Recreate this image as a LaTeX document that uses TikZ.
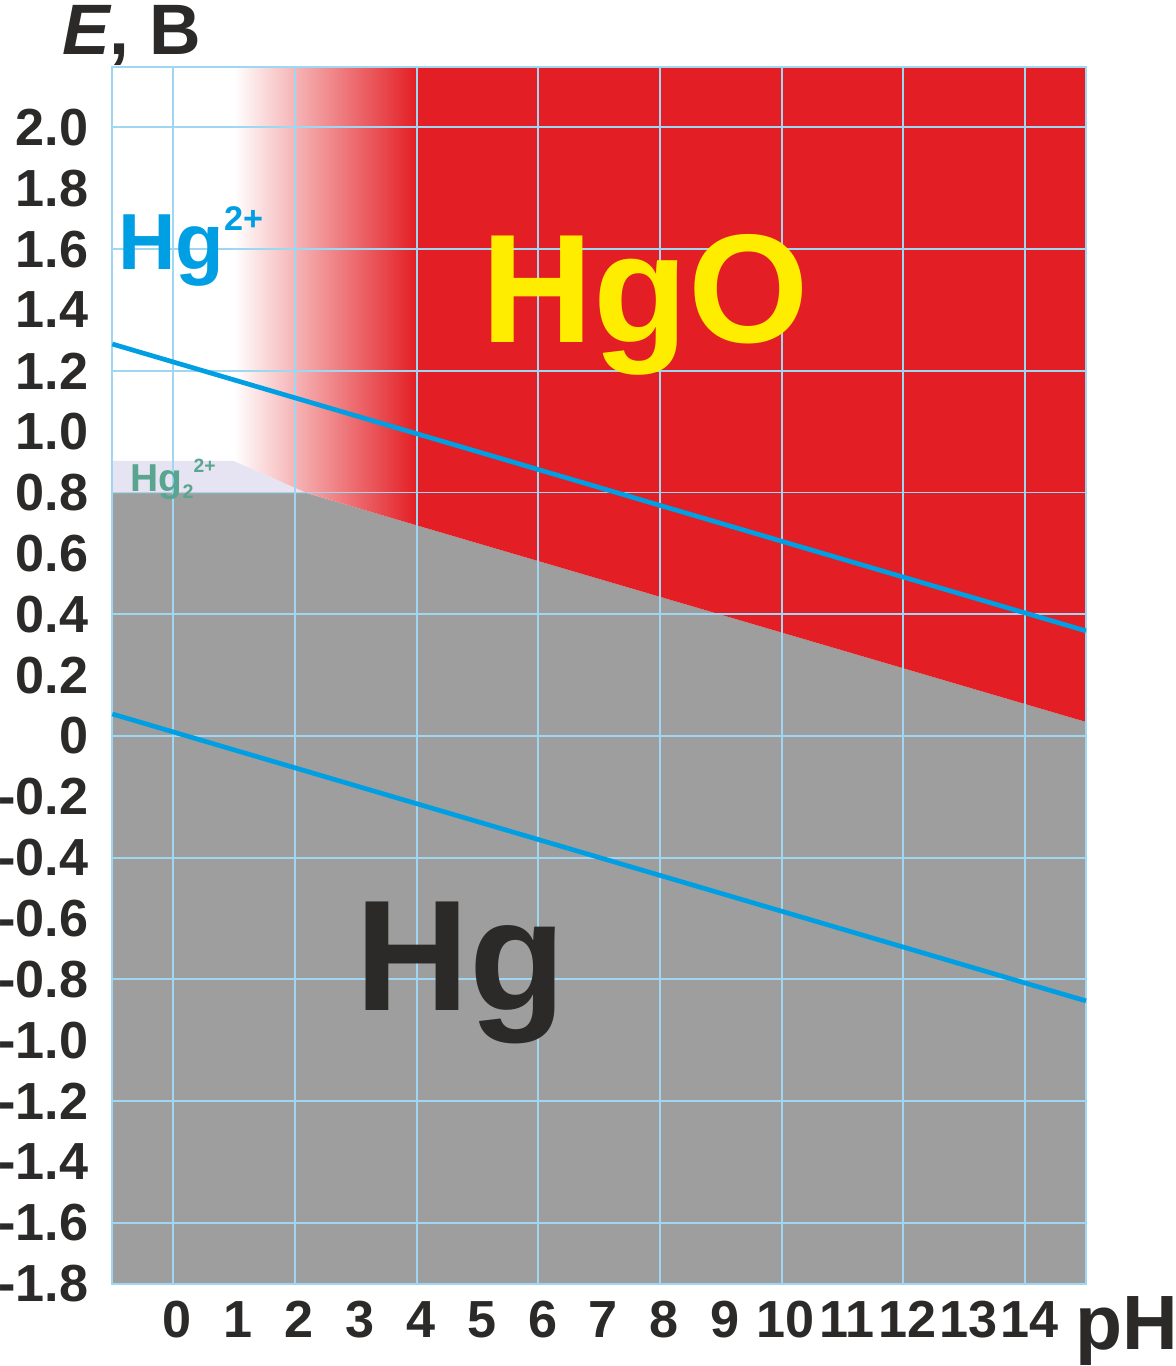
\documentclass[tikz,border=0pt]{standalone}
\usepackage{fontspec}
\setmainfont{Liberation Sans}
\definecolor{hgored}{HTML}{E31E24}
\definecolor{hggray}{HTML}{9D9E9D}
\definecolor{hglav}{HTML}{E6E4F2}
\definecolor{hggrid}{HTML}{9FD7F3}
\definecolor{hgblue}{HTML}{009FE3}
\definecolor{hgteal}{HTML}{5AA58F}
\definecolor{hgyellow}{HTML}{FFED00}
\definecolor{hgdark}{HTML}{2B2A29}
\tikzset{
	lbl/.style={inner sep=0, text=hgdark, font=\bfseries\fontsize{12.2}{14}\selectfont},
	species/.style={anchor=base west, inner sep=0},
	boundary/.style={hgblue, line width=1.1pt}
}
\begin{document}
\begin{tikzpicture}[x=0.5cm, y=0.5cm]
	\useasboundingbox (-2.846,-10.355) rectangle (16.48,12.094);
	\fill [hggray] (-1,-9) -- (-1,3.99) -- (2.2,3.99) -- (15,0.23) -- (15,-9) -- cycle;
	\fill [hglav] (-1,3.99) -- (-1,4.52) -- (1,4.52) -- (2.2,3.99) -- cycle;
	\begin{scope}
		\clip (1,11) -- (15,11) -- (15,0.23) -- (2.2,3.99) -- (1,4.52) -- cycle;
		\shade [left color=white, right color=hgored] (1,-9) rectangle (4.01,11);
		\fill [hgored] (4,-9) rectangle (15,11);
	\end{scope}
	\draw [hggrid, line width=0.45pt] (-1,-9) grid (15,11);
	\draw [hggrid, line width=0.45pt] (-1,-9) rectangle (15,11);
	\draw [boundary] (-1,6.44) -- (15,1.726);
	\draw [boundary] (-1,0.36) -- (15,-4.355);
	\foreach \u/\t in {-9/-1.8,-8/-1.6,-7/-1.4,-6/-1.2,-5/-1.0,-4/-0.8,-3/-0.6,-2/-0.4,-1/-0.2,0/0,1/0.2,2/0.4,3/0.6,4/0.8,5/1.0,6/1.2,7/1.4,8/1.6,9/1.8,10/2.0}
		\node [lbl, anchor=east] (e\u) at (-1.383,\u) {\t};
	\foreach \i in {0,...,14}
		\node [lbl, anchor=base] (ph\i) at (\i+0.07,-9.89) {\i};
	\node [species, text=hgdark, font=\bfseries\fontsize{16.7}{18}\selectfont] (eaxis) at (-1.84,11.19) {\textit{E}, В};
	\node [species, text=hgdark, font=\bfseries\fontsize{18}{20}\selectfont] (phaxis) at (14.82,-10.09) {pH};
	\node [species, text=hgyellow, font=\bfseries\fontsize{36.2}{40}\selectfont] (hgo) at (5.06,6.46) {HgO};
	\node [species, text=hgdark, font=\bfseries\fontsize{36.9}{40}\selectfont] (hg) at (2.98,-4.52) {Hg};
	\node [species, text=hgblue, font=\bfseries\fontsize{18.6}{20}\selectfont] (hgion) at (-0.92,7.66) {Hg\raisebox{9.3pt}{\fontsize{8}{9}\selectfont 2+}};
	\node [species, text=hgteal, font=\bfseries\fontsize{9.1}{10}\selectfont] (hgtwo) at (-0.71,4.015) {Hg\raisebox{-1.6pt}{\fontsize{4.6}{5}\selectfont 2}\raisebox{4.4pt}{\fontsize{4.5}{5}\selectfont 2+}};
\end{tikzpicture}
\end{document}
